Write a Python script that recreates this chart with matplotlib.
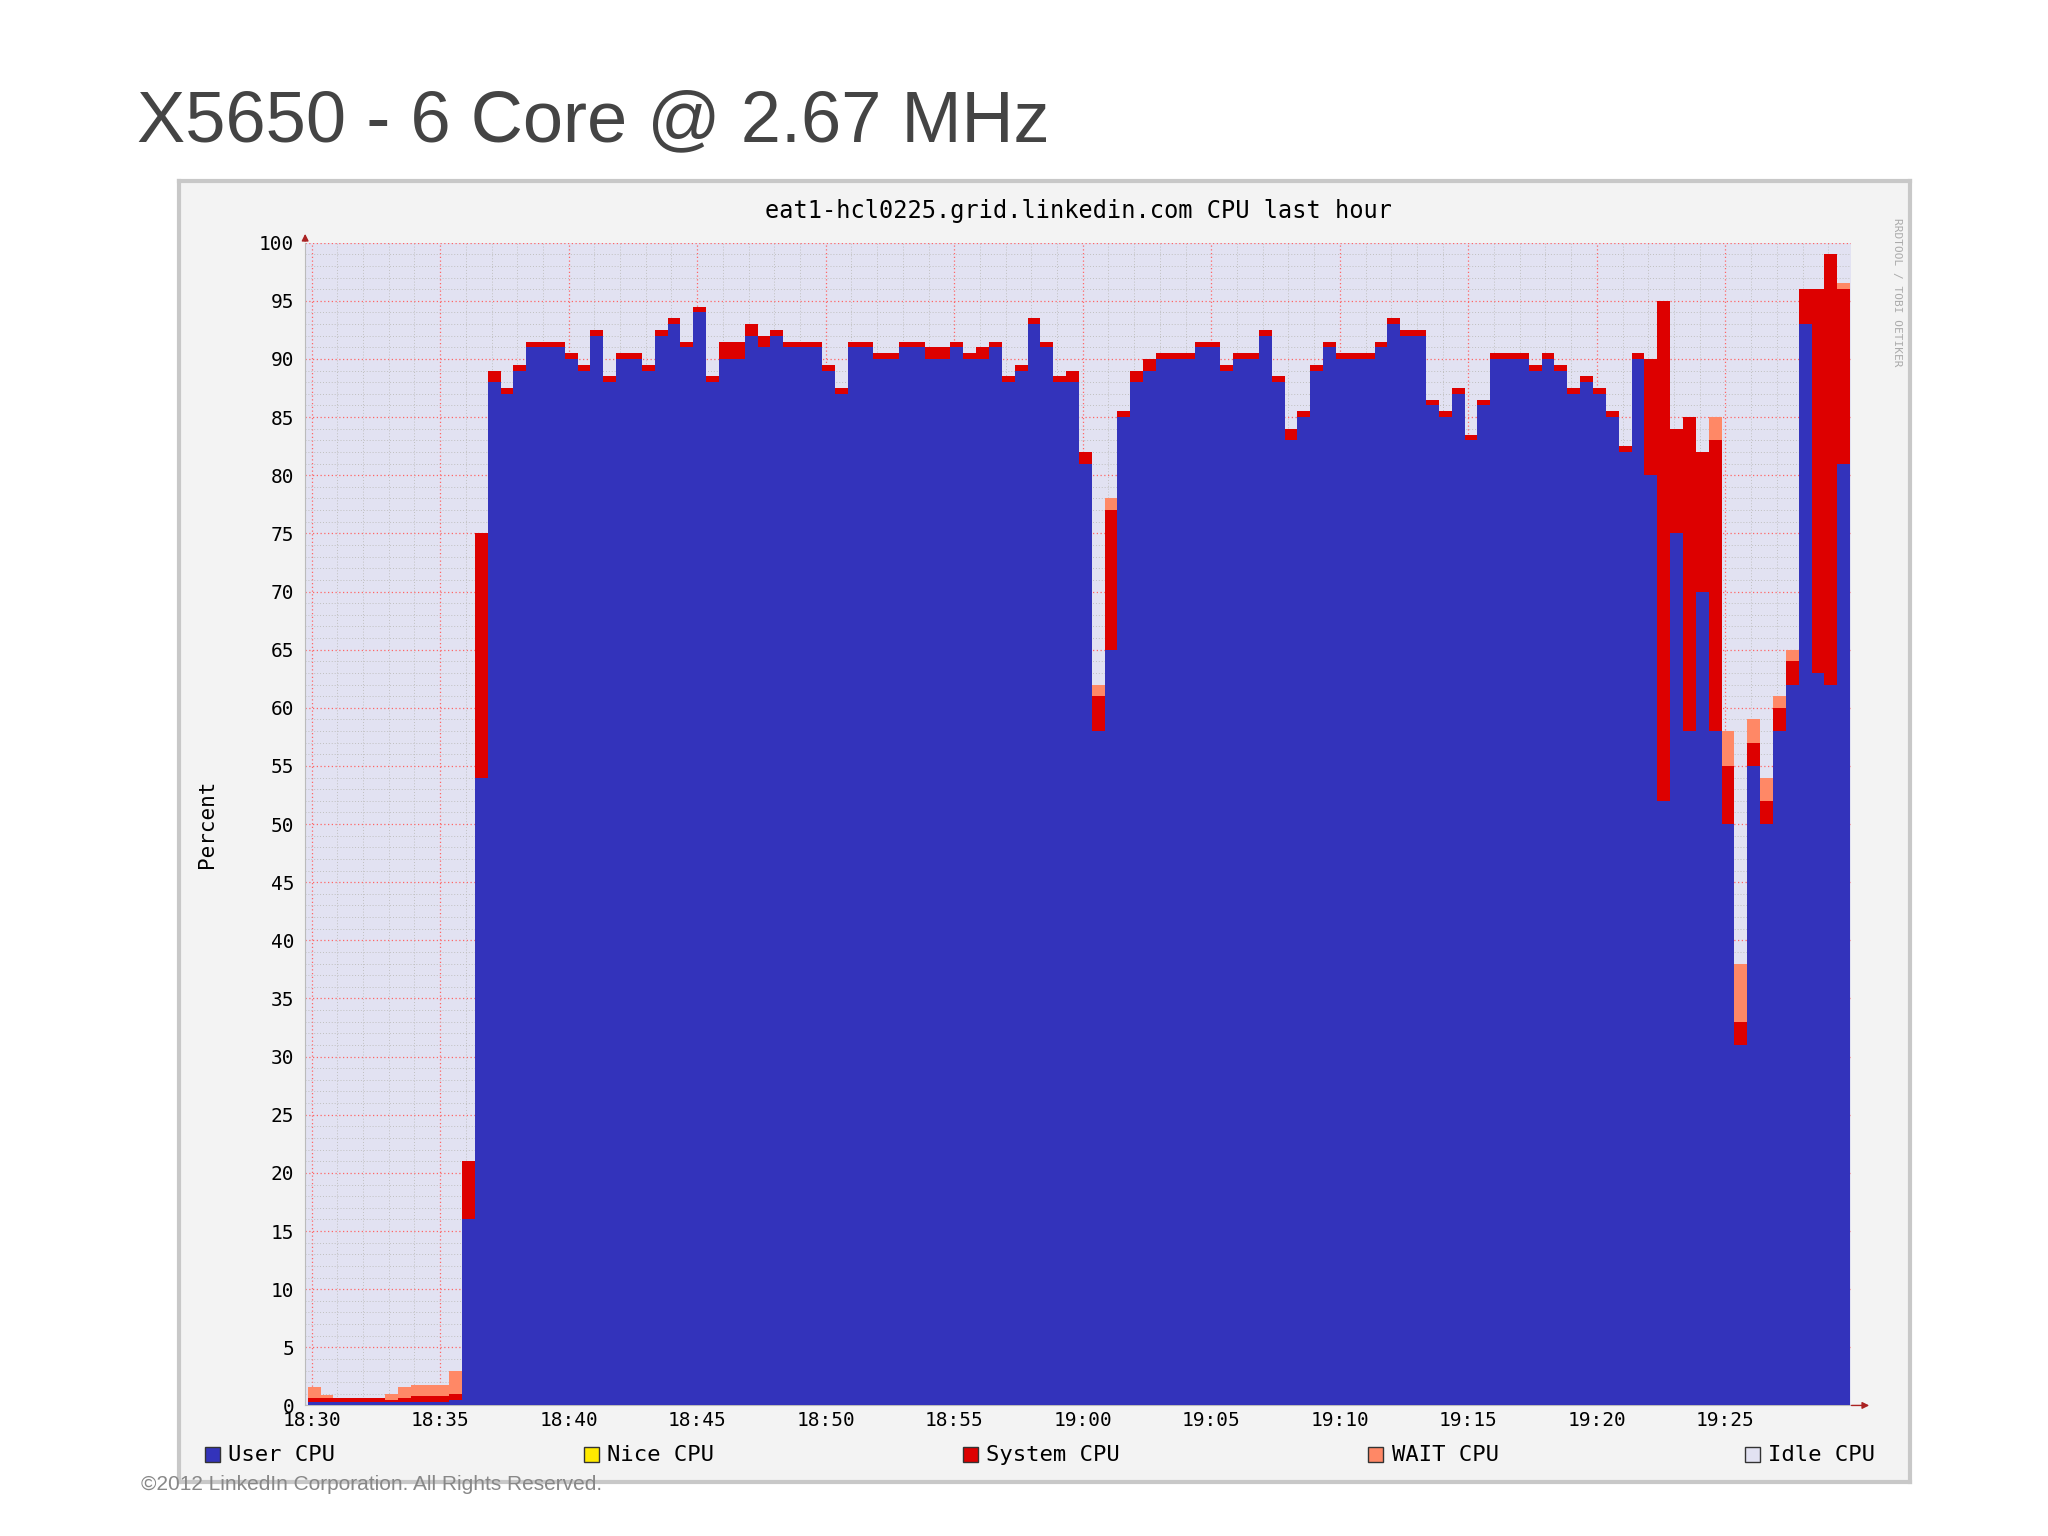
import matplotlib
matplotlib.use("Agg")
import matplotlib.pyplot as plt
import numpy as np

# 30-second samples from 18:30 to 19:30 (minutes after 18:30)
user = [0.3,0.3,0.3,0.3,0.3,0.3,0.3,0.3,0.3,0.3,0.3,0.5,16,54,88,87,89,91,91,91,
        90,89,92,88,90,90,89,92,93,91,94,88,90,90,92,91,92,91,91,91,
        89,87,91,91,90,90,91,91,90,90,91,90,90,91,88,89,93,91,88,88,
        81,58,65,85,88,89,90,90,90,91,91,89,90,90,92,88,83,85,89,91,
        90,90,90,91,93,92,92,86,85,87,83,86,90,90,90,89,90,89,87,88,
        87,85,82,90,80,52,75,58,70,58,50,31,55,50,58,62,93,63,62,81]
system = [0.3,0.3,0.3,0.3,0.3,0.3,0.2,0.3,0.5,0.5,0.5,0.5,5,21,1,0.5,0.5,0.5,0.5,0.5,
          0.5,0.5,0.5,0.5,0.5,0.5,0.5,0.5,0.5,0.5,0.5,0.5,1.5,1.5,1,1,0.5,0.5,0.5,0.5,
          0.5,0.5,0.5,0.5,0.5,0.5,0.5,0.5,1,1,0.5,0.5,1,0.5,0.5,0.5,0.5,0.5,0.5,1,
          1,3,12,0.5,1,1,0.5,0.5,0.5,0.5,0.5,0.5,0.5,0.5,0.5,0.5,1,0.5,0.5,0.5,
          0.5,0.5,0.5,0.5,0.5,0.5,0.5,0.5,0.5,0.5,0.5,0.5,0.5,0.5,0.5,0.5,0.5,0.5,0.5,0.5,
          0.5,0.5,0.5,0.5,10,43,9,27,12,25,5,2,2,2,2,2,3,33,37,15]
wait = [1,0.3,0,0,0,0,0.5,1,1,1,1,2,0,0,0,0,0,0,0,0,
        0,0,0,0,0,0,0,0,0,0,0,0,0,0,0,0,0,0,0,0,
        0,0,0,0,0,0,0,0,0,0,0,0,0,0,0,0,0,0,0,0,
        0,1,1,0,0,0,0,0,0,0,0,0,0,0,0,0,0,0,0,0,
        0,0,0,0,0,0,0,0,0,0,0,0,0,0,0,0,0,0,0,0,
        0,0,0,0,0,0,0,0,0,2,3,5,2,2,1,1,0,0,0,0.5]
tick_labels = ["18:30","18:35","18:40","18:45","18:50","18:55","19:00",
               "19:05","19:10","19:15","19:20","19:25"]
legend_labels = ["User CPU","Nice CPU","System CPU","WAIT CPU","Idle CPU"]
legend_colors = ["#3333bb","#ffea00","#dd0000","#ff8866","#e2e2f2"]

u = np.array(user, float); s = np.array(system, float); w = np.array(wait, float)
t = np.arange(len(u)) * 0.5 - 0.15

fig = plt.figure(figsize=(20.48, 15.36), dpi=100)
fig.patch.set_facecolor("white")
fig.text(0.067, 0.92, "X5650 - 6 Core @ 2.67 MHz", fontsize=52, color="#444444",
         family="Liberation Sans", va="center")
bg = fig.add_axes([0.0875, 0.035, 0.845, 0.847])
bg.set_facecolor("#f3f3f3")
bg.set_xticks([]); bg.set_yticks([])
for sp in bg.spines.values():
    sp.set_color("#c8c8c8"); sp.set_linewidth(3)
fig.text(0.069, 0.03, "©2012 LinkedIn Corporation. All Rights Reserved.", fontsize=15,
         color="#888888", family="Liberation Sans")
fig.text(0.924, 0.81, "RRDTOOL / TOBI OETIKER", rotation=270, fontsize=8,
         color="#aaaaaa", family="DejaVu Sans Mono", va="center")

ax = fig.add_axes([0.149, 0.085, 0.755, 0.757])
ax.set_facecolor("#e2e2f2")
mono = "DejaVu Sans Mono"
ax.bar(t, u, width=0.5, align="edge", color="#3333bb", lw=0, zorder=3)
ax.bar(t, s, width=0.5, bottom=u, align="edge", color="#dd0000", lw=0, zorder=3)
ax.bar(t, w, width=0.5, bottom=u + s, align="edge", color="#ff8866", lw=0, zorder=3)
ax.set_xlim(-0.25, 59.9)
ax.set_ylim(0, 100)
ax.set_xticks(np.arange(0, 60, 5))
ax.set_xticklabels(tick_labels, family=mono, fontsize=14)
ax.set_yticks(np.arange(0, 101, 5))
ax.set_yticklabels([str(v) for v in range(0, 101, 5)], family=mono, fontsize=14)
ax.set_xticks(np.arange(0, 60, 1), minor=True)
ax.set_yticks(np.arange(0, 101, 1), minor=True)
ax.grid(which="minor", color="#c0c0c0", ls=(0, (1, 2)), lw=0.7, zorder=1)
ax.grid(which="major", color="#ff6666", ls=(0, (1, 2)), lw=0.9, zorder=2)
ax.set_axisbelow(True)
ax.tick_params(which="both", length=0, pad=4)
ax.tick_params(axis="y", pad=8)
for sp in ["top", "right"]:
    ax.spines[sp].set_visible(False)
ax.spines["left"].set_color("#bbbbbb")
ax.spines["bottom"].set_color("#bbbbbb")
ax.annotate("", xy=(60.7, 0), xytext=(59.8, 0), annotation_clip=False,
            arrowprops=dict(arrowstyle="-|>", color="#aa2222", lw=1))
ax.annotate("", xy=(-0.25, 101), xytext=(-0.25, 99.9), annotation_clip=False,
            arrowprops=dict(arrowstyle="-|>", color="#aa2222", lw=1))
ax.set_ylabel("Percent", family=mono, fontsize=15, labelpad=30)
ax.set_title("eat1-hcl0225.grid.linkedin.com CPU last hour", family=mono,
             fontsize=17, pad=18)

xs = [0.100, 0.285, 0.470, 0.668, 0.852]
for x, lab, c in zip(xs, legend_labels, legend_colors):
    fig.patches.append(plt.Rectangle((x, 0.048), 0.0075, 0.01, transform=fig.transFigure,
                                     facecolor=c, edgecolor="#333333", lw=1))
    fig.text(x + 0.0115, 0.053, lab, family=mono, fontsize=16, va="center")

fig.savefig("out.png", dpi=100)
